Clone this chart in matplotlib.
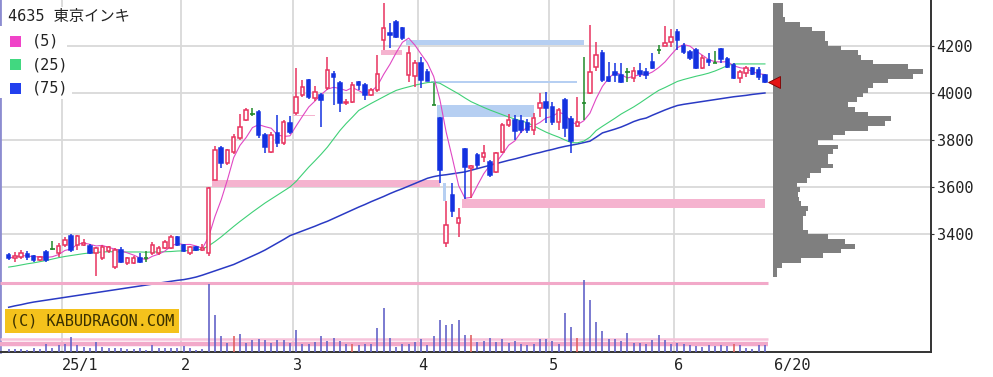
import numpy as np
import pandas as pd
import matplotlib
matplotlib.use("Agg")
import matplotlib.pyplot as plt
from matplotlib.patches import Rectangle

# daily candles 2024-12-18 .. 2025-06-20 (index 0..121)
opens = [3313, 3300, 3305, 3318, 3310, 3292, 3326, 3338, 3322, 3355,
         3394, 3355, 3355, 3351, 3322, 3300, 3330, 3262, 3334, 3279,
         3280, 3300, 3300, 3322, 3322, 3343, 3343, 3390, 3355, 3322,
         3347, 3334, 3322, 3631, 3766, 3702, 3749, 3808, 3885, 3910,
         3918, 3821, 3750, 3830, 3787, 3872, 3914, 3990, 4054, 3978,
         3990, 4020, 4080, 4040, 3955, 3960, 4045, 4033, 3990, 4012,
         4223, 4255, 4300, 4275, 4075, 4070, 4125, 4087, 3948, 3895,
         3365, 3567, 3450, 3760, 3680, 3736, 3730, 3706, 3665, 3750,
         3863, 3885, 3880, 3872, 3842, 3935, 3960, 3940, 3876, 3969,
         3889, 3859, 3957, 3999, 4108, 4170, 4065, 4088, 4075, 4088,
         4062, 4090, 4088, 4130, 4181, 4200, 4215, 4257, 4200, 4172,
         4181, 4105, 4140, 4127, 4185, 4143, 4117, 4062, 4083, 4105,
         4096, 4075]
highs = [3322, 3325, 3335, 3330, 3315, 3310, 3335, 3372, 3364, 3390,
         3400, 3398, 3380, 3360, 3345, 3355, 3351, 3343, 3345, 3305,
         3310, 3320, 3330, 3370, 3350, 3375, 3398, 3395, 3360, 3351,
         3350, 3360, 3600, 3775, 3775, 3762, 3825, 3910, 3935, 3935,
         3925, 3830, 3835, 3906, 3885, 3900, 4105, 4054, 4060, 4030,
         4000, 4150, 4090, 4050, 3975, 4045, 4050, 4040, 4020, 4160,
         4380, 4295, 4308, 4280, 4200, 4140, 4150, 4100, 4043, 3897,
         3540, 3618, 3512, 3765, 3695, 3745, 3780, 3715, 3750, 3870,
         3910, 3905, 3905, 3890, 3915, 3998, 4003, 3960, 3935, 3978,
         3900, 3982, 4150, 4287, 4215, 4180, 4130, 4125, 4125, 4105,
         4110, 4125, 4105, 4170, 4202, 4282, 4268, 4268, 4210, 4180,
         4190, 4160, 4168, 4175, 4190, 4150, 4125, 4096, 4115, 4110,
         4110, 4080]
lows = [3292, 3283, 3295, 3292, 3283, 3288, 3285, 3336, 3305, 3345,
        3326, 3334, 3352, 3318, 3225, 3292, 3322, 3255, 3279, 3270,
        3275, 3280, 3285, 3315, 3315, 3338, 3338, 3350, 3326, 3313,
        3330, 3330, 3310, 3631, 3680, 3695, 3740, 3800, 3880, 3900,
        3810, 3745, 3745, 3770, 3780, 3825, 3906, 3980, 3975, 3965,
        3855, 4010, 3948, 3918, 3950, 3955, 4010, 3970, 3985, 4005,
        4181, 4190, 4230, 4225, 4045, 4025, 4020, 4048, 3948, 3618,
        3345, 3475, 3390, 3550, 3555, 3680, 3705, 3645, 3660, 3745,
        3855, 3800, 3830, 3830, 3820, 3897, 3870, 3863, 3842, 3812,
        3745, 3855, 3885, 3995, 4090, 4045, 4045, 4045, 4040, 4045,
        4045, 4065, 4060, 4100, 4165, 4198, 4195, 4181, 4165, 4140,
        4100, 4100, 4115, 4125, 4125, 4105, 4060, 4040, 4065, 4075,
        4054, 4040]
closes = [3300, 3310, 3322, 3305, 3290, 3305, 3292, 3338, 3351, 3377,
          3334, 3394, 3364, 3322, 3343, 3347, 3347, 3334, 3283, 3300,
          3300, 3285, 3300, 3355, 3343, 3368, 3390, 3355, 3330, 3347,
          3334, 3343, 3597, 3758, 3702, 3758, 3812, 3855, 3927, 3910,
          3821, 3770, 3821, 3787, 3876, 3834, 3980, 4025, 3982, 4003,
          3970, 4096, 4065, 3955, 3960, 4033, 4033, 3990, 4012, 4080,
          4275, 4245, 4236, 4232, 4168, 4125, 4054, 4050, 3948, 3673,
          3440, 3500, 3470, 3685, 3690, 3694, 3745, 3652, 3745, 3863,
          3885, 3838, 3842, 3842, 3893, 3956, 3935, 3876, 3927, 3850,
          3796, 3876, 3957, 4088, 4160, 4054, 4050, 4075, 4045, 4088,
          4092, 4080, 4075, 4105, 4181, 4210, 4235, 4223, 4172, 4147,
          4105, 4147, 4130, 4127, 4143, 4110, 4062, 4088, 4105, 4080,
          4067, 4045]
volume = [3, 3, 3, 2, 4, 3, 8, 4, 7, 8,
          15, 7, 5, 4, 10, 5, 4, 4, 4, 3,
          3, 4, 2, 7, 4, 4, 4, 4, 6, 4,
          2, 3, 68, 37, 16, 9, 16, 18, 9, 12,
          13, 12, 9, 12, 12, 9, 22, 8, 8, 10,
          16, 11, 14, 11, 8, 8, 7, 8, 8, 24,
          44, 14, 5, 8, 8, 10, 13, 7, 16, 32,
          27, 28, 32, 17, 17, 10, 11, 14, 10, 13,
          9, 11, 8, 7, 8, 13, 13, 11, 8, 39,
          25, 14, 72, 52, 30, 21, 13, 13, 11, 19,
          9, 9, 8, 12, 17, 12, 8, 9, 8, 7,
          6, 5, 7, 6, 7, 6, 8, 7, 4, 3,
          7, 7]
vol_red_days = [36, 55, 74, 91, 116]
vol_levels = [69, 13, 8]

ma25 = [3262, 3266, 3271, 3276, 3280, 3285, 3290, 3296, 3302, 3307,
        3311, 3315, 3319, 3322, 3324, 3326, 3327, 3327, 3326, 3326,
        3326, 3326, 3325, 3326, 3326, 3327, 3328, 3330, 3331, 3332,
        3334, 3338, 3352, 3370, 3390, 3412, 3434, 3455, 3475, 3495,
        3514, 3533, 3550, 3567, 3584, 3601, 3625, 3655, 3685, 3712,
        3740, 3770, 3805, 3840, 3870, 3897, 3925, 3940, 3955, 3969,
        3983, 3997, 4010, 4018, 4025, 4032, 4038, 4043, 4045, 4040,
        4025, 4010, 3995, 3978, 3962, 3950, 3938, 3927, 3917, 3907,
        3897, 3889, 3881, 3873, 3860, 3846, 3833, 3822, 3812, 3800,
        3789, 3788, 3795, 3812, 3840, 3858, 3875, 3892, 3910, 3925,
        3940, 3957, 3975, 3993, 4010, 4022, 4035, 4048, 4056, 4063,
        4070, 4076, 4083, 4092, 4103, 4115, 4122, 4122, 4122, 4122,
        4122, 4122]
ma75 = [3092, 3098, 3103, 3109, 3114, 3118, 3122, 3126, 3130, 3134,
        3138, 3142, 3146, 3150, 3154, 3158, 3162, 3166, 3170, 3174,
        3178, 3182, 3186, 3190, 3194, 3198, 3202, 3206, 3209, 3214,
        3220, 3228, 3237, 3246, 3255, 3264, 3273, 3285, 3297, 3309,
        3321, 3334, 3349, 3364, 3379, 3395, 3405, 3415, 3425, 3435,
        3446, 3456, 3468, 3480, 3492, 3504, 3516, 3527, 3539, 3550,
        3561, 3573, 3584, 3594, 3605, 3616, 3627, 3638, 3645, 3650,
        3653, 3657, 3661, 3665, 3672, 3679, 3686, 3693, 3700, 3707,
        3714, 3720, 3727, 3734, 3741, 3747, 3754, 3760, 3767, 3773,
        3778, 3783, 3789, 3795, 3812, 3830, 3838, 3846, 3855, 3866,
        3878, 3887, 3893, 3905, 3916, 3927, 3937, 3946, 3951, 3955,
        3959, 3963, 3967, 3971, 3975, 3979, 3983, 3986, 3989, 3993,
        3996, 3999]

# month starts (index of first trading day) and their labels
month_idx = [9, 28, 46, 66, 87, 107]
month_labels = ["25/1", "2", "3", "4", "5", "6"]
last_label = "6/20"

# price gaps: candle after gap, candle that filled it (None = still open), low, high, kind
gaps = [
    (33, 70, 3600, 3631, "up"),
    (46, 50, 3900, 3906, "up"),
    (60, 64, 4160, 4181, "up"),
    (64, 93, 4201, 4224, "down"),
    (68, 92, 4043, 4048, "down"),
    (69, 85, 3897, 3948, "down"),
    (70, 71, 3542, 3618, "down"),
    (73, None, 3512, 3550, "up"),
]

# price-by-volume profile, 20 yen bins from 3220
profile_low = list(range(3220, 4380, 20))
profile_vol = [4, 4, 9, 28, 50, 68, 82, 72, 55, 35,
               30, 30, 30, 33, 35, 28, 26, 25, 27, 24,
               34, 37, 48, 60, 55, 55, 60, 65, 45, 60,
               72, 95, 112, 118, 95, 82, 75, 84, 90, 95,
               100, 115, 140, 150, 135, 100, 88, 85, 68, 55,
               52, 52, 39, 27, 12, 10, 10, 10]

price_ticks = [3400, 3600, 3800, 4000, 4200]

UP = "#e8335f"
DOWN = "#1432e0"
DOJI = "#218a2a"
MONO = "DejaVu Sans Mono"

W, H = 993, 377
fig = plt.figure(figsize=(W / 100, H / 100), dpi=100)
ax = fig.add_axes([0, 25 / H, 931 / W, 352 / H])

n = len(closes)
x = np.arange(n)
ax.set_xlim(-1.39, 147.57)
ax.set_ylim(2902.6, 4392.6)

# grid
for p in price_ticks:
    ax.axhline(p, color="#d9d9d9", lw=1.3, zorder=0)
for m in month_idx:
    ax.axvline(m - 0.5, color="#d9d9d9", lw=1.3, zorder=0)

# gaps (windows)
for start, fill, lo, hi, kind in gaps:
    end = (fill if fill is not None else n) - 0.5
    col = "#f5b3cf" if kind == "up" else "#b6cff2"
    ax.add_patch(Rectangle((start - 0.5, lo), end - start, hi - lo,
                           facecolor=col, edgecolor="none", zorder=1))

# moving averages
ma5 = pd.Series(closes).rolling(5, min_periods=1).mean()
ax.plot(x, ma75, color="#2a3ac4", lw=1.1, zorder=2)
ax.plot(x, ma25, color="#3fd077", lw=0.8, zorder=2)
ax.plot(x, ma5, color="#e048c4", lw=0.8, zorder=2)

# candles
for i in range(n):
    o, h, l, c = opens[i], highs[i], lows[i], closes[i]
    if c > o:
        col = UP
    elif c < o:
        col = DOWN
    else:
        col = DOJI
    ax.vlines(i, l, h, color=col, lw=1.1, zorder=3)
    if col == DOJI:
        ax.hlines(o, i - 0.35, i + 0.35, color=col, lw=1.2, zorder=4)
    else:
        face = "white" if col == UP else DOWN
        ax.bar(i, abs(c - o), bottom=min(o, c), width=0.55, color=face,
               edgecolor=col, linewidth=1.1, zorder=4)

# volume panel (twinx moves the price ticks left, so style ticks afterwards)
axv = ax.twinx()
axv.set_ylim(0, 352)
axv.set_yticks([])
for s in axv.spines.values():
    s.set_visible(False)
axv.hlines(vol_levels[0], -1.39, n - 0.5, color="#f2a9c9", lw=2.2, zorder=1)
axv.hlines(vol_levels[1], -1.39, n - 0.5, color="#f7c3da", lw=1.8, zorder=1)
axv.hlines(vol_levels[2], -1.39, n - 0.5, color="#f2a9c9", lw=3.2, zorder=1)
vcols = ["#e06262" if i in vol_red_days else "#6464c8" for i in range(n)]
axv.vlines(x, 0, volume, colors=vcols, lw=1.2, zorder=2)

# axes styling
ax.spines["top"].set_visible(False)
ax.spines["left"].set_color("#8c8cd0")
ax.spines["left"].set_linewidth(2)
ax.spines["right"].set_color("#333333")
ax.spines["right"].set_linewidth(1.4)
ax.spines["bottom"].set_color("#333333")
ax.spines["bottom"].set_linewidth(1.4)
ax.yaxis.tick_right()
ax.set_yticks(price_ticks)
ax.set_yticklabels([str(p) for p in price_ticks], fontfamily=MONO, fontsize=11,
                   color="#222222")
ax.tick_params(axis="y", which="both", left=False, labelleft=False, right=True,
               labelright=True, direction="out", length=2.5, pad=1.5, color="#333333")
ax.set_xticks([m - 0.5 for m in month_idx] + [122.4])
ax.set_xticklabels(month_labels + [last_label], fontfamily=MONO, fontsize=11,
                   color="#222222", ha="left")
ax.tick_params(axis="x", length=0, pad=4)

# price-by-volume profile
axp = fig.add_axes([773 / W, 25 / H, (931 - 773) / W, 352 / H], sharey=ax)
axp.barh(profile_low, profile_vol, height=20, align="edge", color="#7f7f7f", lw=0)
axp.set_xlim(0, 158)
axp.set_axis_off()
axp.plot([1], [closes[-1]], marker="<", markersize=8, color="#e41414",
         markeredgecolor="#7a0000", markeredgewidth=0.6, clip_on=False, zorder=5)

# title / legend block
fig.patches.append(Rectangle((0, 1 - 98 / H), 67 / W, 72 / H, transform=fig.transFigure,
                             facecolor="white", edgecolor="none", zorder=2))
fig.text(8 / W, 1 - 17 / H, "4635 東京インキ", fontsize=11, va="center",
         family=[MONO, "Noto Sans CJK JP"], color="#222222",
         bbox=dict(facecolor="white", edgecolor="none", pad=2))
legend_items = [("(5)", "#f043c8"), ("(25)", "#41d880"), ("(75)", "#2240ee")]
for k, (lab, col) in enumerate(legend_items):
    yc = 41 + 23.5 * k
    fig.patches.append(Rectangle((10 / W, 1 - (yc + 5.5) / H), 11 / W, 11 / H,
                                 transform=fig.transFigure, facecolor=col,
                                 edgecolor="none", zorder=3))
    fig.text(32 / W, 1 - yc / H, lab, fontsize=11, va="center", family=MONO,
             color="#222222", bbox=dict(facecolor="white", edgecolor="none", pad=2.5))

fig.text(10 / W, 1 - 321 / H, "(C) KABUDRAGON.COM", fontsize=11, va="center",
         family=MONO, color="#3a3000",
         bbox=dict(boxstyle="square,pad=0.3", facecolor="#f4c21c", edgecolor="none"))

fig.savefig("out.png", dpi=100)
